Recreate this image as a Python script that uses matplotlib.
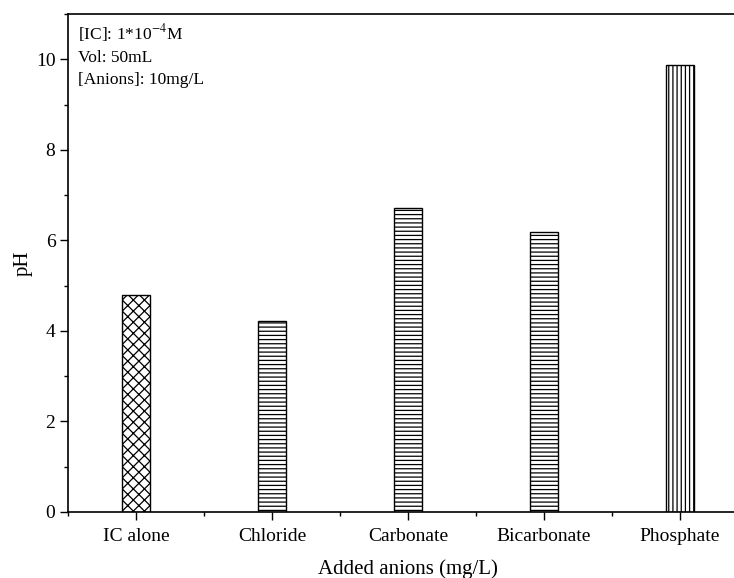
import numpy as np
import matplotlib.pyplot as plt
from matplotlib.ticker import MultipleLocator, FixedLocator

# values
anions = ['IC alone', 'Chloride', 'Carbonate', 'Bicarbonate', 'Phosphate']
ph = [4.80, 4.22, 6.72, 6.19, 9.87]
hatches = ['xxx', '----', '----', '----', '||||']

plt.rcParams['font.family'] = ['Liberation Serif', 'DejaVu Serif']
plt.rcParams['hatch.linewidth'] = 0.9
plt.rcParams['mathtext.fontset'] = 'stix'

fig = plt.figure(figsize=(7.34, 5.78), dpi=100)
# right edge of the axes sits past the picture, like the cropped original
ax = fig.add_axes([68 / 734, 1 - 512 / 578, 680 / 734, 498 / 578])

x = np.arange(len(anions))
for i in range(len(anions)):
    ax.bar(x[i], ph[i], width=0.2, color='white', edgecolor='black',
           hatch=hatches[i], linewidth=1.0, zorder=2)

ax.set_xlim(-0.5, 4.5)
ax.set_ylim(0, 11)
ax.set_xticks(x)
ax.set_xticklabels(anions)
ax.xaxis.set_minor_locator(FixedLocator(np.arange(-0.5, 5, 1.0)))
ax.yaxis.set_major_locator(MultipleLocator(2))
ax.yaxis.set_minor_locator(MultipleLocator(1))
ax.tick_params(which='major', direction='out', length=5.5, width=1.0, labelsize=14)
ax.tick_params(which='minor', direction='out', length=3, width=1.0)
ax.tick_params(axis='x', which='major', pad=6)

for s in ax.spines.values():
    s.set_linewidth(1.2)

ax.set_xlabel('Added anions (mg/L)', fontsize=15, labelpad=10)
ax.set_ylabel('pH', fontsize=15, labelpad=2)

ax.text(0.015, 0.983, '[IC]: 1*10$^{-4}$M\nVol: 50mL\n[Anions]: 10mg/L',
        transform=ax.transAxes, ha='left', va='top', fontsize=12.5,
        linespacing=1.5)

fig.savefig('out.png', dpi=100)
